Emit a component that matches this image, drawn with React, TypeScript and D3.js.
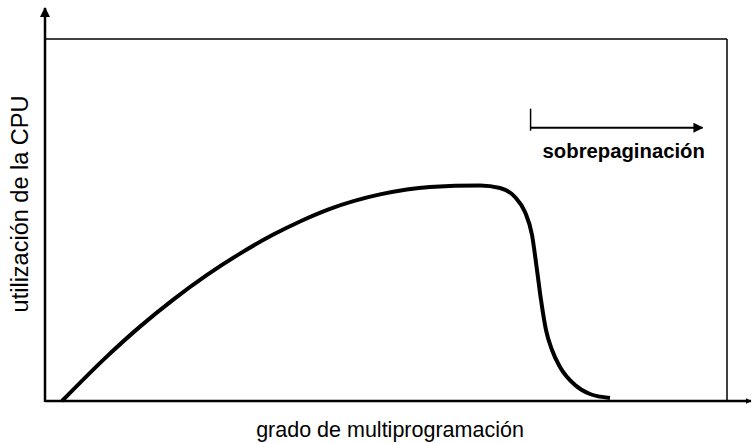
import React from "react";
import * as d3 from "d3";

// degree of multiprogramming (0-100) vs CPU utilization (0-100)
const degree = [2.49, 9.05, 13.93, 18.81, 23.71, 28.59, 33.48, 37.39, 41.79, 49.12, 56.45, 63.78, 66.72, 68.91, 70.38, 71.41, 72.14, 72.73, 73.46, 74.34, 75.51, 77.71, 79.91, 82.84];
const utilization = [0, 12.27, 20.55, 28.01, 34.75, 40.72, 45.97, 49.59, 53.07, 57.07, 59.14, 59.53, 58.84, 56.35, 52.21, 45.86, 36.19, 27.9, 19.61, 14.09, 9.39, 4.42, 1.93, 0.83];

const xLabel = "grado de multiprogramación";
const yLabel = "utilización de la CPU";
const thrashLabel = "sobrepaginación";
const thrashStart = 71.2;
const thrashEnd = 96.4;
const thrashLevel = 75.5;

export default function App() {
  const W = 752, H = 443;
  const left = 45, right = 727, top = 39, bottom = 401;
  const x = d3.scaleLinear().domain([0, 100]).range([left, right]);
  const y = d3.scaleLinear().domain([0, 100]).range([bottom, top]);
  const pts = degree.map((d, i) => [d, utilization[i]] as [number, number]);
  const line = d3.line<[number, number]>().x(d => x(d[0])).y(d => y(d[1])).curve(d3.curveMonotoneX);
  const font = "'Liberation Sans', Arial, Helvetica, sans-serif";
  const ty = y(thrashLevel);
  return (
    <svg width={W} height={H} style={{ position: "absolute", left: 0, top: 0, background: "#fff" }}>
      <defs>
        <marker id="ah" viewBox="0 0 10 10" refX="9" refY="5" markerWidth="6" markerHeight="6" orient="auto" markerUnits="userSpaceOnUse">
          <path d="M0,0 L10,5 L0,10 Z" fill="#000" />
        </marker>
        <marker id="ahBig" viewBox="0 0 10 10" refX="9" refY="5" markerWidth="10" markerHeight="10" orient="auto" markerUnits="userSpaceOnUse">
          <path d="M0,0 L10,5 L0,10 Z" fill="#000" />
        </marker>
      </defs>
      {/* box */}
      <line x1={left} y1={top} x2={right} y2={top} stroke="#000" strokeWidth={1.5} />
      <line x1={right} y1={top} x2={right} y2={bottom} stroke="#000" strokeWidth={1.5} />
      {/* axes */}
      <line x1={left} y1={bottom + 1} x2={left} y2={8} stroke="#000" strokeWidth={2.5} markerEnd="url(#ahBig)" />
      <line x1={left} y1={bottom} x2={751} y2={bottom} stroke="#000" strokeWidth={2.5} markerEnd="url(#ah)" />
      {/* curve */}
      <path d={line(pts) || ""} fill="none" stroke="#000" strokeWidth={4} strokeLinecap="butt" />
      {/* thrashing marker */}
      <line x1={x(thrashStart)} y1={ty - 19} x2={x(thrashStart)} y2={ty + 3} stroke="#000" strokeWidth={1.5} />
      <line x1={x(thrashStart)} y1={ty} x2={x(thrashEnd)} y2={ty} stroke="#000" strokeWidth={2} markerEnd="url(#ahBig)" />
      <text x={x(thrashStart) + 12} y={ty + 30} fontFamily={font} fontSize={20.3} fontWeight="bold">{thrashLabel}</text>
      {/* labels */}
      <text x={(left + right) / 2 + 4} y={437} textAnchor="middle" fontFamily={font} fontSize={21.5}>{xLabel}</text>
      <text transform={`translate(28,${204}) rotate(-90)`} textAnchor="middle" fontFamily={font} fontSize={23.5}>{yLabel}</text>
    </svg>
  );
}
